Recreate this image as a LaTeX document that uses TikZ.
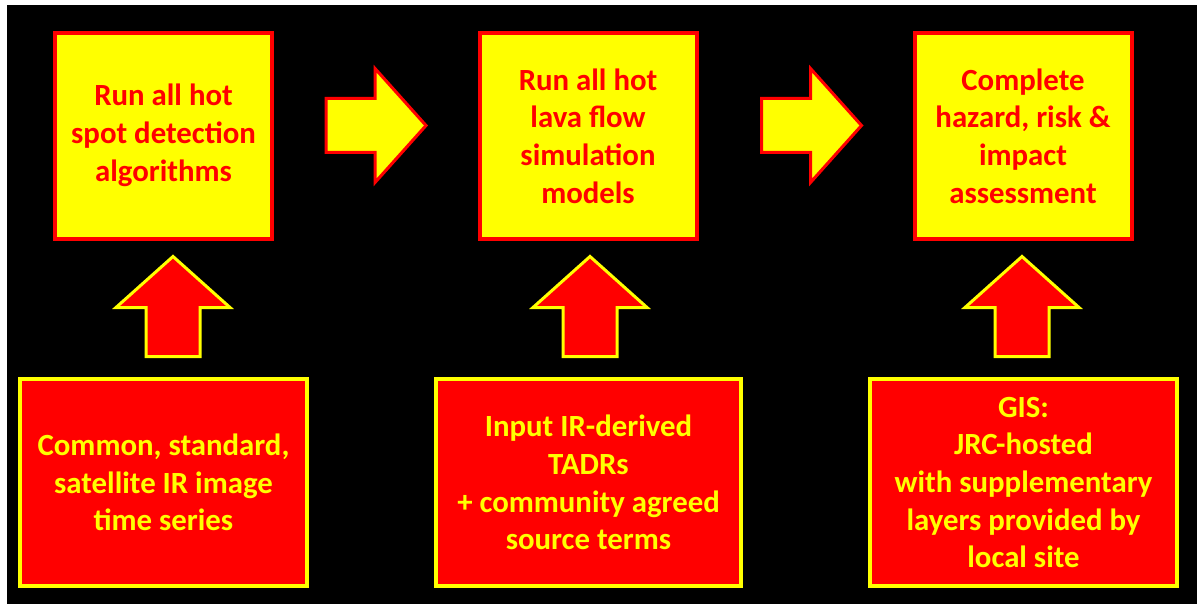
\documentclass[tikz,border=0pt]{standalone}
\usepackage{fontspec}
\setmainfont{Carlito}
\usetikzlibrary{calc}
\definecolor{hotred}{RGB}{255,0,0}
\definecolor{hotyellow}{RGB}{255,255,0}
\tikzset{
  stage/.style={draw=hotred, fill=hotyellow, text=hotred, line width=4pt,
    minimum width=217pt, minimum height=206pt, align=center,
    font=\fontsize{30.8}{37.7}\selectfont\bfseries, inner sep=0pt},
  source/.style={draw=hotyellow, fill=hotred, text=hotyellow, line width=4pt,
    minimum height=207pt, align=center,
    font=\fontsize{30.8}{37.7}\selectfont\bfseries, inner sep=0pt},
  blockarrow/.pic={
    \draw[pic actions] (0,-27) -- (49,-27) -- (49,-57) -- (100,0)
      -- (49,57) -- (49,27) -- (0,27) -- cycle;
  },
  flowarrow/.style={draw=hotred, fill=hotyellow, line width=3pt, miter limit=3},
  feedarrow/.style={draw=hotyellow, fill=hotred, line width=3pt, miter limit=3},
}
\begin{document}
\begin{tikzpicture}[x=1pt, y=-1pt]
  % page and black panel
  \fill[white] (0,0) rectangle (1197,604);
  \fill[black] (7,5) rectangle (1197,604);
  \useasboundingbox (0,0) rectangle (1197,604);

  % processing stages
  \node[stage] (s1) at (163.5,136)
    {\raisebox{-3pt}{\begin{tabular}{@{}c@{}}Run all hot\\spot detection\\algorithms\end{tabular}}};
  \node[stage] (s2) at (588,136) {Run all hot\\lava flow\\simulation\\models};
  \node[stage] (s3) at (1023,136) {Complete\\hazard, risk \&\\impact\\assessment};

  % data sources
  \node[source, minimum width=287pt] (d1) at (163.5,482.5)
    {Common, standard,\\satellite IR image\\time series};
  \node[source, minimum width=305pt] (d2) at (588.5,482.5)
    {Input IR-derived\\TADRs\\+ community agreed\\source terms};
  \node[source, minimum width=307pt] (d3) at (1023.5,482.5)
    {GIS:\\JRC-hosted\\with supplementary\\layers provided by\\local site};

  % block arrow tails
  \coordinate (a12) at ($(s1.east)+(52,-10.5)$);
  \coordinate (a23) at ($(s2.east)+(63,-10.5)$);
  \coordinate (u1) at ($(d1.north)+(9.5,-20.5)$);
  \coordinate (u2) at ($(d2.north)+(1.5,-20.5)$);
  \coordinate (u3) at ($(d3.north)+(-1.5,-20.5)$);

  % stage-to-stage arrows
  \pic[flowarrow] at (a12) {blockarrow};
  \pic[flowarrow] at (a23) {blockarrow};

  % source-to-stage arrows
  \pic[feedarrow, rotate=90] at (u1) {blockarrow};
  \pic[feedarrow, rotate=90] at (u2) {blockarrow};
  \pic[feedarrow, rotate=90] at (u3) {blockarrow};
\end{tikzpicture}
\end{document}
